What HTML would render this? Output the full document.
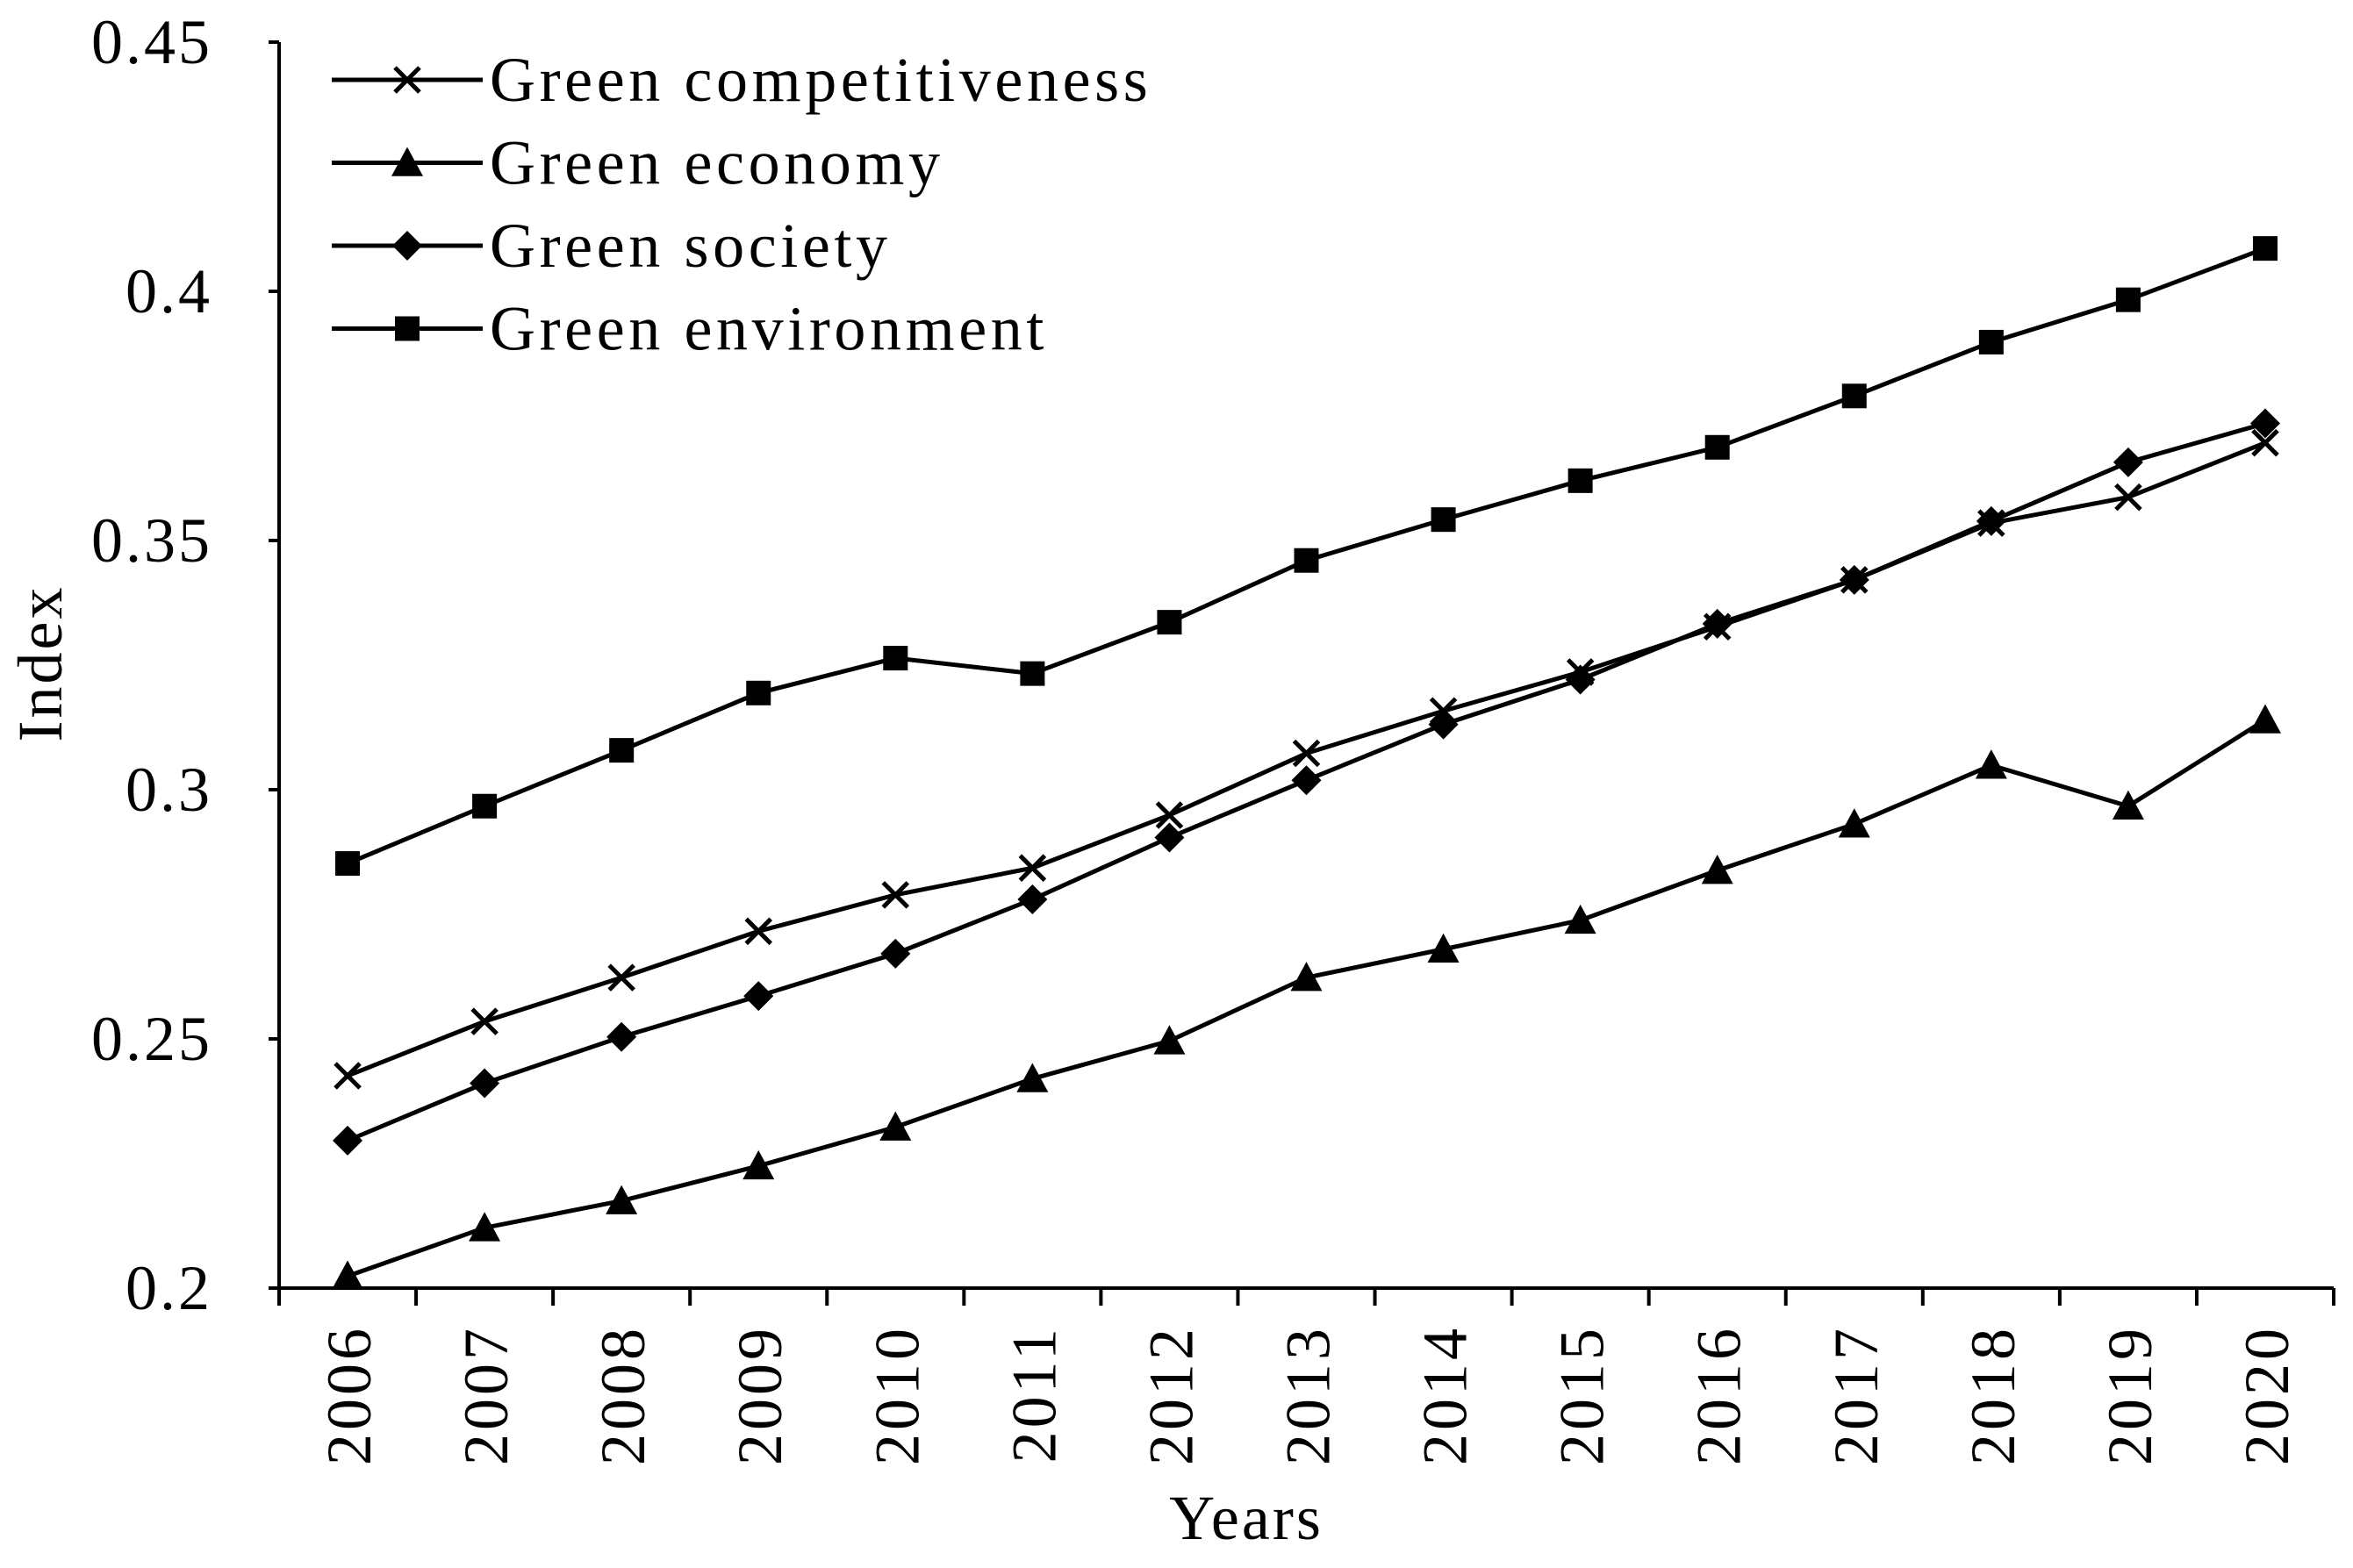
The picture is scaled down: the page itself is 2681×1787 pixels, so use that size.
<!DOCTYPE html>
<html><head><meta charset="utf-8"><style>
html,body{margin:0;padding:0;background:#fff;}
svg{display:block;font-family:"Liberation Serif",serif;}
</style></head><body>
<svg id="chart" width="2681" height="1787" viewBox="0 0 2681 1787" xmlns="http://www.w3.org/2000/svg">
<g id="axes"></g><g id="series"></g><g id="legend"></g>
</svg>
<script>
const categories = ["2006","2007","2008","2009","2010","2011","2012","2013","2014","2015","2016","2017","2018","2019","2020"];
const competitiveness = [0.2426,0.2535,0.2623,0.2716,0.2789,0.2843,0.2949,0.3073,0.3158,0.3236,0.3327,0.3421,0.3535,0.3587,0.3696];
const economy = [0.2024,0.2121,0.2175,0.2245,0.2323,0.2420,0.2496,0.2623,0.2680,0.2738,0.2838,0.2931,0.3049,0.2967,0.3140];
const society = [0.2296,0.2411,0.2504,0.2586,0.2671,0.2780,0.2904,0.3019,0.3131,0.3221,0.3333,0.3421,0.3539,0.3657,0.3735];
const environment = [0.2852,0.2967,0.3079,0.3194,0.3264,0.3233,0.3336,0.3460,0.3542,0.3620,0.3687,0.3790,0.3898,0.3983,0.4086];
const yTicks = [0.2,0.25,0.3,0.35,0.4,0.45];
const yTickLabels = ["0.2","0.25","0.3","0.35","0.4","0.45"];
const seriesNames = ["Green competitiveness","Green economy","Green society","Green environment"];

const NS="http://www.w3.org/2000/svg";
const L=318,R=2659,T=48,B=1468,yMin=0.2,yMax=0.45;
const band=(R-L)/categories.length;
const xs=i=>L+band*(i+0.5);
const ys=v=>B-(v-yMin)/(yMax-yMin)*(B-T);
function mk(tag,attrs,parent){const e=document.createElementNS(NS,tag);for(const k in attrs)e.setAttribute(k,attrs[k]);parent.appendChild(e);return e;}
const axes=document.getElementById('axes'),sg=document.getElementById('series'),lg=document.getElementById('legend');

let e=mk('line',{x1:L,y1:T,x2:L,y2:B,stroke:'#000','stroke-width':4},axes);


e=mk('line',{x1:L,y1:B,x2:R,y2:B,stroke:'#000','stroke-width':4},axes);


yTicks.forEach((v,i)=>{
  mk('line',{x1:L-12,y1:ys(v),x2:L,y2:ys(v),stroke:'#000','stroke-width':4},axes);
  const t=mk('text',{x:L-76,y:ys(v)+24,'text-anchor':'end','font-size':72,'letter-spacing':3},axes);
  t.textContent=yTickLabels[i];
  
  
});
for(let i=0;i<=categories.length;i++){
  const x=L+band*i;
  mk('line',{x1:x,y1:B,x2:x,y2:B+20,stroke:'#000','stroke-width':4},axes);
}
categories.forEach((c,i)=>{
  const t=mk('text',{transform:`translate(${xs(i)+26},1510) rotate(-90)`,'text-anchor':'end','font-size':72,'letter-spacing':4},axes);
  t.textContent=c;
  
  
});
let t=mk('text',{x:1420,y:1754,'text-anchor':'middle','font-size':72,'letter-spacing':3},axes);t.textContent='Years';


t=mk('text',{transform:'translate(70,756) rotate(-90)','text-anchor':'middle','font-size':72,'letter-spacing':3},axes);t.textContent='Index';



function marker(type,x,y,g){
  if(type==='x'){const s=14;mk('path',{d:`M${x-s},${y-s}L${x+s},${y+s}M${x-s},${y+s}L${x+s},${y-s}`,stroke:'#000','stroke-width':5,fill:'none'},g);}
  else if(type==='tri'){const s=18;mk('polygon',{points:`${x},${y-s} ${x+s},${y+s*0.85} ${x-s},${y+s*0.85}`,fill:'#000'},g);}
  else if(type==='dia'){const s=17;mk('polygon',{points:`${x},${y-s} ${x+s},${y} ${x},${y+s} ${x-s},${y}`,fill:'#000'},g);}
  else {const s=14;mk('rect',{x:x-s,y:y-s,width:2*s,height:2*s,fill:'#000'},g);}
}
const all=[competitiveness,economy,society,environment];
const types=['x','tri','dia','sq'];
const slugs=['green-competitiveness','green-economy','green-society','green-environment'];
all.forEach((data,k)=>{
  const g=mk('g',{},sg);
  
  
  mk('polyline',{points:data.map((v,i)=>xs(i)+','+ys(v)).join(' '),fill:'none',stroke:'#000','stroke-width':5},g);
  data.forEach((v,i)=>marker(types[k],xs(i),ys(v),g));
  const ly=91+k*94.5;
  const lgI=mk('g',{},lg);
  
  
  mk('line',{x1:378,y1:ly,x2:550,y2:ly,stroke:'#000','stroke-width':5},lgI);
  marker(types[k],464,ly,lgI);
  const tx=mk('text',{x:558,y:ly+24,'font-size':72,'letter-spacing':4.6},lgI);tx.textContent=seriesNames[k];
});
</script>
</body></html>
